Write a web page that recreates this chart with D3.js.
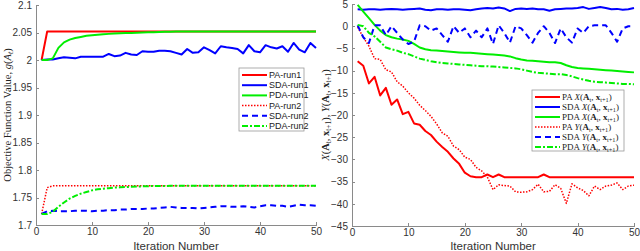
<!DOCTYPE html>
<html lang="en">
<head>
<meta charset="utf-8">
<title>Objective values</title>
<script src="https://d3js.org/d3.v7.min.js"></script>
<style>
  body { margin: 0; background: #fff; }
  .tick text { font-family: "Liberation Sans", Arial, sans-serif; font-size: 10px; fill: #333; }
  .axis path, .axis line { stroke: #8a8a8a; shape-rendering: crispEdges; }
  .xlab { font-family: "Liberation Sans", Arial, sans-serif; font-size: 11.5px; fill: #333; }
  .ylab { font-family: "Liberation Serif", "Times New Roman", serif; font-size: 10.5px; fill: #222; }
  .leg text { font-size: 9px; fill: #222; }
</style>
</head>
<body>
<script>
var iters = d3.range(1, 51);

// left chart: objective function value
var paRun1 = [2.0].concat(d3.range(49).map(function () { return 2.052; }));
var sdaRun1 = [2.000, 2.001, 2.001, 2.003, 2.005, 2.004, 2.003, 2.006, 2.006, 2.006,
  2.006, 2.006, 2.011, 2.007, 2.008, 2.013, 2.010, 2.009, 2.016, 2.015,
  2.015, 2.017, 2.017, 2.016, 2.013, 2.010, 2.020, 2.013, 2.014, 2.023,
  2.018, 2.012, 2.025, 2.023, 2.022, 2.020, 2.012, 2.027, 2.016, 2.014,
  2.027, 2.023, 2.021, 2.025, 2.015, 2.031, 2.019, 2.014, 2.031, 2.022];
var pdaRun1 = [2.000, 2.000, 2.003, 2.022, 2.032, 2.037, 2.040, 2.042, 2.044, 2.045,
  2.046, 2.047, 2.0475, 2.048, 2.0485, 2.049, 2.0493, 2.0496, 2.050, 2.0503,
  2.0506, 2.051, 2.0512, 2.0515, 2.0517, 2.0519, 2.052, 2.052, 2.052, 2.052,
  2.052, 2.052, 2.052, 2.052, 2.052, 2.052, 2.052, 2.052, 2.052, 2.052,
  2.052, 2.052, 2.052, 2.052, 2.052, 2.052, 2.052, 2.052, 2.052, 2.052];
var paRun2 = [1.720, 1.768].concat(d3.range(48).map(function () { return 1.7712; }));
var sdaRun2 = [1.720, 1.725, 1.726, 1.725, 1.725, 1.725, 1.726, 1.726, 1.726, 1.725,
  1.726, 1.726, 1.727, 1.727, 1.728, 1.728, 1.729, 1.729, 1.729, 1.730,
  1.730, 1.731, 1.732, 1.733, 1.732, 1.731, 1.731, 1.731, 1.730, 1.731,
  1.732, 1.733, 1.734, 1.734, 1.733, 1.733, 1.734, 1.733, 1.732, 1.734,
  1.736, 1.736, 1.735, 1.735, 1.733, 1.735, 1.737, 1.736, 1.736, 1.735];
var pdaRun2 = [1.720, 1.720, 1.724, 1.733, 1.741, 1.748, 1.753, 1.757, 1.760, 1.763,
  1.765, 1.766, 1.767, 1.768, 1.7685, 1.769, 1.7695, 1.770, 1.7703, 1.7706,
  1.7708, 1.771, 1.771, 1.7712, 1.7712, 1.7712, 1.7712, 1.7712, 1.7712, 1.7712,
  1.7712, 1.7712, 1.7712, 1.7712, 1.7712, 1.7712, 1.7712, 1.7712, 1.7712, 1.7712,
  1.7712, 1.7712, 1.7712, 1.7712, 1.7712, 1.7712, 1.7712, 1.7712, 1.7712, 1.7712];
var leftTicksY = [1.7, 1.75, 1.8, 1.85, 1.9, 1.95, 2, 2.05, 2.1];
var leftNames = ["PA-run1", "SDA-run1", "PDA-run1", "PA-run2", "SDA-run2", "PDA-run2"];

// right chart: X(A,x) and Y(A,x)
var paX = [-7.9, -8.9, -12.9, -11.4, -15.6, -13.9, -17.7, -16.5, -19.8, -19.3,
  -21.9, -22.2, -23.6, -24.5, -26.0, -27.2, -28.3, -29.8, -31.0, -33.0,
  -33.8, -34, -34, -33.4, -34, -33.4, -34, -34, -34, -34,
  -34, -34, -34, -33.4, -34, -34, -34, -34, -34, -34,
  -34, -34, -34, -34, -34, -34, -34, -34, -34, -34];
var sdaX = [3.8, 3.7, 3.8, 3.8, 3.7, 3.8, 3.9, 3.8, 3.7, 3.8,
  3.9, 4.0, 3.7, 3.6, 3.8, 3.8, 3.7, 3.8, 3.8, 3.7,
  3.6, 3.8, 4.0, 4.1, 4.0, 4.2, 4.0, 3.4, 3.9, 4.0,
  3.9, 4.0, 3.8, 3.8, 3.5, 3.8, 3.9, 4.0, 4.0, 4.1,
  4.3, 3.9, 4.1, 4.3, 4.1, 3.8, 3.9, 3.7, 3.8, 4.1];
var pdaX = [4.8, 3.3, 1.8, 0.3, -1.0, -2.0, -2.5, -2.8, -3.0, -3.3,
  -4.0, -4.8, -5.2, -5.4, -5.5, -5.6, -5.7, -5.8, -5.9, -6.0,
  -6.0, -6.1, -6.2, -6.3, -6.4, -6.5, -6.6, -6.8, -7.2, -7.5,
  -7.7, -7.8, -7.9, -8.0, -8.1, -8.1, -8.3, -8.8, -9.2, -9.4,
  -9.5, -9.6, -9.7, -9.8, -9.9, -10.0, -10.1, -10.2, -10.3, -10.4];
var paY = [-0.2, -2.5, -4.5, -7.3, -7.5, -9.8, -10.3, -12.5, -13.5, -15.0,
  -16.2, -17.8, -19.0, -20.3, -22.0, -24.0, -24.8, -27.0, -27.8, -29.5,
  -30.0, -31.8, -32.6, -34.0, -36.8, -35.7, -35.9, -36.0, -37.3, -37.4,
  -37.3, -36.8, -35.6, -37.3, -37.2, -35.7, -36.5, -39.9, -35.5, -36.4,
  -37.0, -38.2, -36.0, -36.8, -36.0, -35.8, -35.3, -36.8, -36.0, -35.8];
var sdaY = [0.2, -2.5, -3.8, 0.2, 0.2, -2.0, 0.0, -1.5, -3.0, -4.0,
  -3.5, 0.2, 0.0, -1.0, -0.5, -2.0, -3.5, 0.0, -1.5, -0.5,
  -2.5, -1.0, -2.5, -0.5, -4.0, 0.2, -1.5, -3.7, 0.0, -0.5,
  -2.0, -3.7, -1.5, 0.0, -1.5, -3.8, -0.5, -2.5, -3.7, -0.5,
  -1.5, 0.0, 0.2, 0.2, 0.2, -1.5, -3.5, -0.5, 0.0, 0.0];
var pdaY = [0.3, 0.0, -1.5, -2.3, -3.5, -4.8, -5.2, -5.5, -6.0, -6.3,
  -6.8, -7.3, -7.6, -7.9, -8.1, -8.3, -8.4, -8.5, -8.6, -8.7,
  -8.8, -8.9, -9.0, -9.0, -9.1, -9.2, -9.3, -9.4, -9.5, -9.7,
  -10.0, -10.3, -10.5, -10.6, -10.7, -10.8, -10.8, -11.0, -11.3, -11.7,
  -12.0, -12.3, -12.5, -12.6, -12.7, -12.8, -12.9, -13.0, -13.0, -13.1];
var rightTicksY = [-45, -40, -35, -30, -25, -20, -15, -10, -5, 0, 5];
var rightAlg = ["PA", "SDA", "PDA", "PA", "SDA", "PDA"];
var rightFn = ["X", "X", "X", "Y", "Y", "Y"];

var xTicks = [0, 10, 20, 30, 40, 50];
var colors = ["#ff0000", "#0000ff", "#00ee00", "#ff0000", "#0000ff", "#00ee00"];
var styles = [
  { w: 2, dash: null }, { w: 2, dash: null }, { w: 2, dash: null },
  { w: 1.5, dash: "1.5,1.5" }, { w: 2, dash: "6,4" }, { w: 2, dash: "6,2,2,2" }
];

var svg = d3.select("body").append("svg").attr("width", 640).attr("height", 251);

function panel(x0, x1, y0, y1, yDomain, yTicks, series) {
  var x = d3.scaleLinear().domain([0, 50]).range([x0, x1]);
  var y = d3.scaleLinear().domain(yDomain).range([y1, y0]);
  var g = svg.append("g");

  g.append("g").attr("class", "axis")
    .attr("transform", "translate(0," + y1 + ")")
    .call(d3.axisBottom(x).tickValues(xTicks).tickSize(-3).tickPadding(3).tickSizeOuter(0));
  g.append("g").attr("class", "axis")
    .attr("transform", "translate(" + x0 + ",0)")
    .call(d3.axisLeft(y).tickValues(yTicks).tickFormat(d3.format("")).tickSize(-3).tickPadding(4).tickSizeOuter(0));

  var line = d3.line().x(function (d, i) { return x(iters[i]); }).y(function (d) { return y(d); });
  series.forEach(function (s, k) {
    g.append("path").datum(s)
      .attr("d", line)
      .attr("fill", "none")
      .attr("stroke", colors[k])
      .attr("stroke-width", styles[k].w)
      .attr("stroke-dasharray", styles[k].dash)
      .attr("stroke-linejoin", "round");
  });
  return g;
}

function legend(lx, ly, w, h, rowH, labeller) {
  var lg = svg.append("g").attr("class", "leg").attr("transform", "translate(" + lx + "," + ly + ")");
  lg.append("rect").attr("width", w).attr("height", h).attr("fill", "#fff").attr("stroke", "#999").attr("stroke-width", 0.8);
  colors.forEach(function (c, k) {
    var yy = 7 + k * rowH;
    lg.append("line").attr("x1", 3).attr("x2", 28).attr("y1", yy).attr("y2", yy)
      .attr("stroke", c).attr("stroke-width", styles[k].w).attr("stroke-dasharray", styles[k].dash);
    labeller(lg.append("text").attr("x", 30).attr("y", yy + 3), k);
  });
}

// left panel
panel(36, 316, 5, 225, [1.7, 2.1], leftTicksY,
  [paRun1, sdaRun1, pdaRun1, paRun2, sdaRun2, pdaRun2]);

svg.append("text").attr("class", "xlab").attr("x", 176).attr("y", 250)
  .attr("text-anchor", "middle").text("Iteration Number");
var yl = svg.append("text").attr("class", "ylab")
  .attr("transform", "translate(11,115) rotate(-90)").attr("text-anchor", "middle");
yl.append("tspan").text("Objective Function Value, ");
yl.append("tspan").attr("font-style", "italic").text("g");
yl.append("tspan").text("(");
yl.append("tspan").attr("font-style", "italic").text("A");
yl.append("tspan").attr("font-style", "italic").attr("font-size", "8px").attr("dy", 2).text("t");
yl.append("tspan").attr("dy", -2).text(")");

legend(239, 68, 65, 63, 10.2, function (t, k) {
  t.attr("font-family", "Liberation Sans, Arial, sans-serif").text(leftNames[k]);
});

// right panel
panel(352, 634, 4, 226, [-45, 5], rightTicksY,
  [paX, sdaX, pdaX, paY, sdaY, pdaY]);

svg.append("text").attr("class", "xlab").attr("x", 493).attr("y", 250)
  .attr("text-anchor", "middle").text("Iteration Number");

function mathLabel(t, fn) {
  t.append("tspan").attr("font-style", "italic").text(fn);
  t.append("tspan").text("(");
  t.append("tspan").attr("font-weight", "bold").text("A");
  t.append("tspan").attr("font-size", "0.7em").attr("dy", 2).text("t");
  t.append("tspan").attr("dy", -2).text(", ");
  t.append("tspan").attr("font-weight", "bold").text("x");
  t.append("tspan").attr("font-size", "0.7em").attr("dy", 2).text("t+1");
  t.append("tspan").attr("dy", -2).text(")");
}
var yr = svg.append("text").attr("class", "ylab")
  .attr("transform", "translate(329,115) rotate(-90)").attr("text-anchor", "middle");
mathLabel(yr, "X");
yr.append("tspan").text(", ");
mathLabel(yr, "Y");

legend(532, 90, 92, 61, 10, function (t, k) {
  t.attr("font-family", "Liberation Serif, Times New Roman, serif");
  t.append("tspan").text(rightAlg[k] + " ");
  mathLabel(t, rightFn[k]);
});
</script>
</body>
</html>
